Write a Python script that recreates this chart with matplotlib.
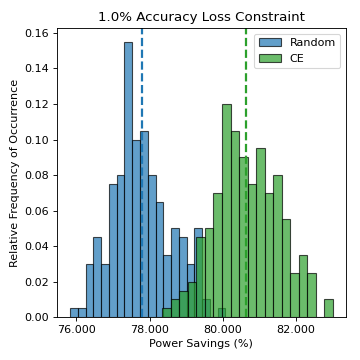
import matplotlib

matplotlib.use("Agg")

import matplotlib.pyplot as plt
import numpy as np
from matplotlib.ticker import FormatStrFormatter

# Histogram bins (relative frequency per bin)
random_first_edge = 75.824
random_bin_width = 0.2127
random_freq = [0.005, 0.005, 0.030, 0.045, 0.030, 0.075, 0.080, 0.155, 0.100, 0.105,
               0.080, 0.065, 0.035, 0.050, 0.045, 0.030, 0.050, 0.010, 0.000, 0.005]

ce_first_edge = 78.35
ce_bin_width = 0.2333
ce_freq = [0.005, 0.010, 0.015, 0.020, 0.045, 0.050, 0.070, 0.120, 0.105, 0.090,
           0.075, 0.095, 0.070, 0.080, 0.055, 0.025, 0.035, 0.025, 0.000, 0.010]

random_mean = 77.79
ce_mean = 80.65

x_ticks = [76, 78, 80, 82]

random_edges = random_first_edge + random_bin_width * np.arange(len(random_freq) + 1)
ce_edges = ce_first_edge + ce_bin_width * np.arange(len(ce_freq) + 1)

fig, ax = plt.subplots(figsize=(4.5, 4.5), dpi=80)
fig.subplots_adjust(left=0.158, right=0.961, top=0.922, bottom=0.119)

ax.hist(random_edges[:-1], bins=random_edges, weights=random_freq,
        color="C0", alpha=0.7, edgecolor="k", linewidth=1, label="Random")
ax.hist(ce_edges[:-1], bins=ce_edges, weights=ce_freq,
        color="C2", alpha=0.7, edgecolor="k", linewidth=1, label="CE")

ax.axvline(random_mean, color="C0", linestyle="--", linewidth=2)
ax.axvline(ce_mean, color="C2", linestyle="--", linewidth=2)

ax.set_xticks(x_ticks)
ax.xaxis.set_major_formatter(FormatStrFormatter("%.3f"))

ax.set_title("1.0% Accuracy Loss Constraint")
ax.set_xlabel("Power Savings (%)")
ax.set_ylabel("Relative Frequency of Occurrence")
ax.legend(loc="upper right")

fig.savefig("out.png", dpi=80)
